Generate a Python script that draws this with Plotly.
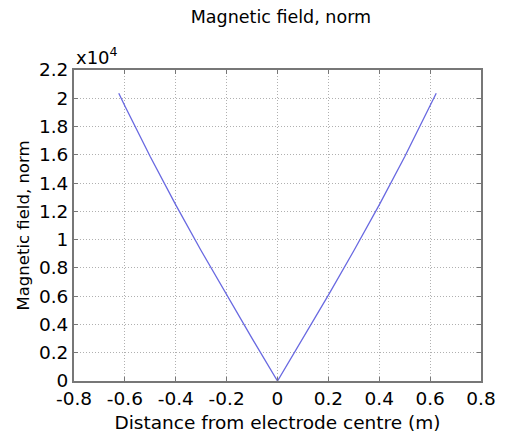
import plotly.graph_objects as go

# distance from electrode centre (m) and field norm (x1e4), right half (mirrored for left)
dist_right = [0.0, 0.1, 0.2, 0.3, 0.4, 0.5, 0.6, 0.624]
field_right = [0.0, 0.302, 0.607, 0.921, 1.246, 1.586, 1.946, 2.036]

dist = [-d for d in dist_right[::-1]] + dist_right[1:]
field = [f * 1e4 for f in field_right[::-1] + field_right[1:]]

x_ticks = [-0.8, -0.6, -0.4, -0.2, 0, 0.2, 0.4, 0.6, 0.8]
y_ticks = [0, 0.2, 0.4, 0.6, 0.8, 1, 1.2, 1.4, 1.6, 1.8, 2, 2.2]

fnt = "DejaVu Sans"

fig = go.Figure()
fig.add_trace(go.Scatter(x=dist, y=field, mode="lines",
                         line=dict(color="rgb(105,105,225)", width=1.3),
                         showlegend=False, hoverinfo="skip"))

axis_common = dict(showline=True, linecolor="#777777", linewidth=1.8, mirror="ticks",
                   ticks="inside", ticklen=4, tickcolor="#777777",
                   showgrid=True, gridcolor="#b0b0b0", griddash="1px,2px", gridwidth=1,
                   zeroline=False, tickfont=dict(family=fnt, size=18.5, color="black"))

fig.update_xaxes(range=[-0.8, 0.8], tickvals=x_ticks,
                 ticktext=[str(v) for v in x_ticks],
                 title=dict(text="Distance from electrode centre (m)",
                            font=dict(family=fnt, size=18.5, color="black"), standoff=8),
                 **axis_common)
fig.update_yaxes(range=[0, 2.2e4], tickvals=[v * 1e4 for v in y_ticks],
                 ticktext=[("%g" % v) for v in y_ticks],
                 title=dict(text="Magnetic field, norm",
                            font=dict(family=fnt, size=16.5, color="black"), standoff=5),
                 **axis_common)

fig.update_layout(
    width=508, height=442,
    margin=dict(l=74, r=22, t=70, b=60),
    plot_bgcolor="white", paper_bgcolor="white",
    title=dict(text="Magnetic field, norm", x=0.553, xanchor="center", y=0.962, yanchor="middle",
               font=dict(family=fnt, size=17.5, color="black")),
    annotations=[dict(text="x10<sup>4</sup>", xref="paper", yref="paper", x=0.0, y=1.0,
                      xanchor="left", yanchor="bottom", showarrow=False, yshift=0,
                      font=dict(family=fnt, size=18, color="black"))],
)

fig.write_html("out.html")
